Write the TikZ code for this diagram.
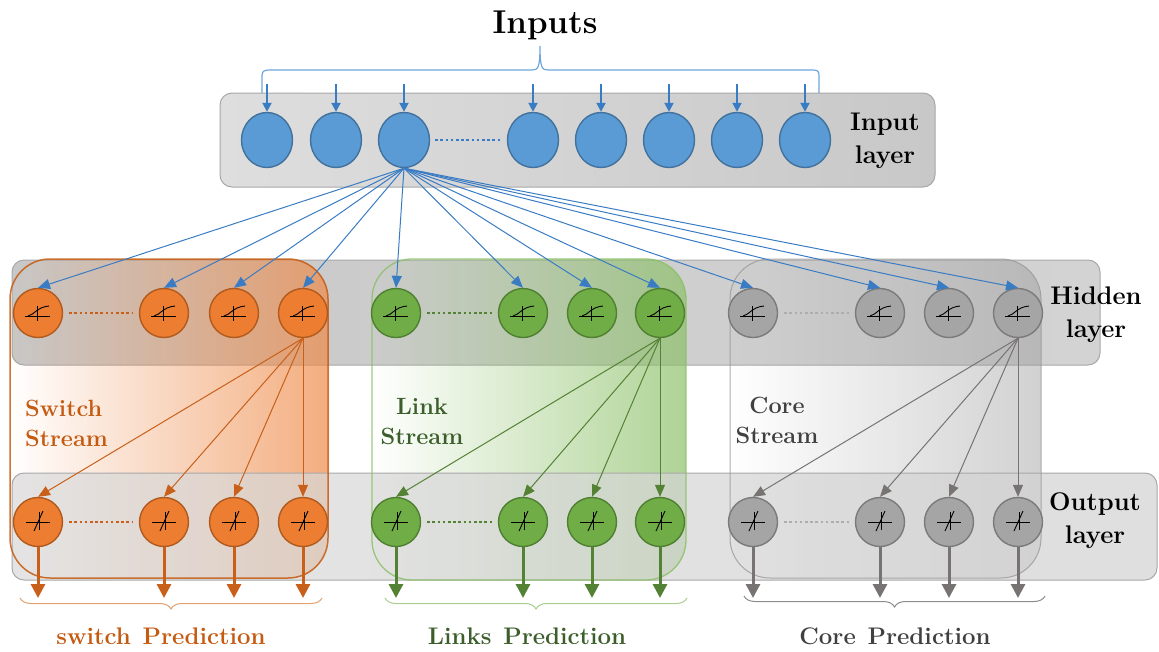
\documentclass[tikz,border=0pt]{standalone}
\usetikzlibrary{arrows.meta,decorations.pathreplacing,fadings,shapes.geometric}
\definecolor{bluF}{HTML}{5B9BD5}
\definecolor{bluD}{HTML}{41719C}
\definecolor{bluA}{HTML}{3A7CC3}
\definecolor{bluB}{HTML}{6FA6DA}
\definecolor{orF}{HTML}{ED7D31}
\definecolor{orD}{HTML}{B05A1E}
\definecolor{orA}{HTML}{C9601A}
\definecolor{orT}{HTML}{C55A11}
\definecolor{orS}{HTML}{EE8A48}
\definecolor{orB}{HTML}{E3A273}
\definecolor{grF}{HTML}{70AD47}
\definecolor{grD}{HTML}{4F7F31}
\definecolor{grA}{HTML}{548235}
\definecolor{grT}{HTML}{3B5E2B}
\definecolor{grS}{HTML}{8CC068}
\definecolor{grB}{HTML}{A9CF8F}
\definecolor{gyF}{HTML}{A5A5A5}
\definecolor{gyD}{HTML}{7A7A7A}
\definecolor{gyA}{HTML}{787373}
\definecolor{gyT}{HTML}{404040}
\definecolor{gyS}{HTML}{999999}
\definecolor{gyB}{HTML}{8C8C8C}
\definecolor{layB}{HTML}{A8A8A8}
\definecolor{inL}{HTML}{DEDEDE}
\definecolor{inR}{HTML}{C8C8C8}
\definecolor{hidL}{HTML}{C8C8C8}
\definecolor{hidR}{HTML}{D3D3D3}
\definecolor{outL}{HTML}{DADADA}
\definecolor{outR}{HTML}{D2D2D2}
\tikzfading[name=streamfade, left color=transparent!100, right color=transparent!30]
\tikzfading[name=greyfade, left color=transparent!100, right color=transparent!55]
\begin{document}
\begin{tikzpicture}[x=1pt,y=-1pt,
  neuron/.style={circle, minimum size=49, inner sep=0, line width=1.4},
  inp/.style={ellipse, minimum width=51, minimum height=55, inner sep=0, fill=bluF, draw=bluD, line width=1.4},
  onode/.style={neuron, fill=orF, draw=orD},
  gnode/.style={neuron, fill=grF, draw=grD},
  ynode/.style={neuron, fill=gyF, draw=gyD},
  layerbox/.style={draw=layB, line width=1, rounded corners=12},
  laylab/.style={align=center, inner sep=0, font=\fontsize{25.5}{33}\selectfont\bfseries},
  strlab/.style={inner sep=0, font=\fontsize{23.5}{30}\selectfont\bfseries},
  predlab/.style={inner sep=0, font=\fontsize{24}{28}\selectfont\bfseries},
  thin arrow/.style={line width=1, -{Triangle[length=12pt,width=10pt]}},
  thick arrow/.style={line width=3, -{Triangle[length=14pt,width=14pt]}},
  dots/.style={line width=2.6, dash pattern=on 2.6pt off 2.6pt},
  glyph/.style={black, line width=0.9},
  pbrace/.style={line width=1, decorate, decoration={brace, mirror, amplitude=11pt}}
]
\useasboundingbox (0,0) rectangle (1159,651);

% layer boxes
\draw[layerbox, left color=inL, right color=inR] (220,93) rectangle (935,187);
\draw[layerbox, left color=hidL, right color=hidR] (12,260) rectangle (1100,365);

% stream boxes
\fill[orS, path fading=streamfade, rounded corners=40] (10,259) rectangle (328,578);
\fill[grS, path fading=streamfade, rounded corners=40] (372,259) rectangle (686,580);
\fill[gyS, path fading=greyfade, rounded corners=40] (730,259) rectangle (1041,578);

% output layer box (translucent, on top of streams)
\draw[layerbox, left color=outL, right color=outR, fill opacity=0.72] (12,473) rectangle (1157,580);

% stream borders
\draw[orT, line width=1.5, rounded corners=40, draw opacity=0.85] (10,259) rectangle (328,578);
\draw[grS, line width=1.3, rounded corners=40, draw opacity=0.85] (372,259) rectangle (686,580);
\draw[gyS, line width=1, rounded corners=40, draw opacity=0.8] (730,259) rectangle (1041,578);

% texts
\node[font=\fontsize{33}{36}\selectfont\bfseries] (inputs) at (545,25) {Inputs};
\node[laylab] (inlab) at (885,141) {Input\\layer};
\node[laylab] (hidlab) at (1096,315) {Hidden\\layer};
\node[laylab] (outlab) at (1095,521) {Output\\layer};
\node[strlab, text=orT, align=left, anchor=west] (swl) at (25,423) {Switch\\Stream};
\node[strlab, text=grT, align=center] (lkl) at (422,421) {Link\\Stream};
\node[strlab, text=gyT, align=center] (crl) at (777,420) {Core\\Stream};
\node[predlab, text=orT] (swp) at (161,636) {switch\hspace{0.12em} Prediction};
\node[predlab, text=grT] (lkp) at (527,636) {Links\hspace{0.12em} Prediction};
\node[predlab, text=gyT] (crp) at (895,636) {Core\hspace{0.12em} Prediction};

% input nodes
\foreach \x [count=\i] in {267,336,404,533,601,669,737,805} {
  \node[inp] (i\i) at (\x,140) {};
  \coordinate (ia\i) at (\x,84);
  \draw[bluA, line width=2, -{Triangle[length=9pt,width=9pt]}] (ia\i) -- (i\i.north);
}
\draw[bluA, dots] ([xshift=5]i3.east) -- ([xshift=-5]i4.west);

% top brace
\draw[bluB, line width=1.2] (262,93) -- (262,76) .. controls (262,71) and (264,70) .. (270,70) -- (532,70)
  .. controls (538,70) and (540,68) .. (540,46) .. controls (540,68) and (542,70) .. (548,70) -- (812,70)
  .. controls (818,70) and (819,71) .. (819,76) -- (819,93);

% hidden and output nodes
\foreach \x [count=\i] in {38,164,234,303} {
  \node[onode] (h\i) at (\x,313) {};
  \node[onode] (o\i) at (\x,522) {};
}
\foreach \x [count=\i from 5] in {396,523,592,660} {
  \node[gnode] (h\i) at (\x,313) {};
  \node[gnode] (o\i) at (\x,522) {};
}
\foreach \x [count=\i from 9] in {753,880,949,1018} {
  \node[ynode] (h\i) at (\x,313) {};
  \node[ynode] (o\i) at (\x,522) {};
}

% glyphs
\foreach \i in {1,...,12} {
  \draw[glyph] ([shift={(-13,3)}]h\i.center) -- ([shift={(12,3)}]h\i.center);
  \draw[glyph] ([shift={(-1,-7)}]h\i.center) -- ([shift={(-1,8)}]h\i.center);
  \draw[glyph] ([shift={(-10,3)}]h\i.center) .. controls ([shift={(-4,2)}]h\i.center) and ([shift={(-1,-6)}]h\i.center) .. ([shift={(11,-7)}]h\i.center);
  \draw[glyph] ([shift={(-12,0)}]o\i.center) -- ([shift={(12,0)}]o\i.center);
  \draw[glyph] ([shift={(1,-10)}]o\i.center) -- ([shift={(1,8)}]o\i.center);
  \draw[glyph] ([shift={(-4,9)}]o\i.center) -- ([shift={(5,-11)}]o\i.center);
}

% dotted lines
\draw[orA, dots] ([xshift=6]h1.east) -- ([xshift=-6]h2.west);
\draw[orA, dots] ([xshift=6]o1.east) -- ([xshift=-6]o2.west);
\draw[grA, dots] ([xshift=6]h5.east) -- ([xshift=-6]h6.west);
\draw[grA, dots] ([xshift=6]o5.east) -- ([xshift=-6]o6.west);
\draw[gyS!80, dots] ([xshift=6]h9.east) -- ([xshift=-6]h10.west);
\draw[gyS!80, dots] ([xshift=6]o9.east) -- ([xshift=-6]o10.west);

% input -> hidden
\foreach \i in {1,...,12} {
  \draw[bluA, thin arrow] (i3.south) -- (h\i.north);
}

% hidden -> output
\foreach \i in {1,...,4} { \draw[orA, thin arrow] (h4.south) -- (o\i.north); }
\foreach \i in {5,...,8} { \draw[grA, thin arrow] (h8.south) -- (o\i.north); }
\foreach \i in {9,...,12} { \draw[gyA, thin arrow] (h12.south) -- (o\i.north); }

% output arrows
\foreach \x [count=\i] in {38,164,234,303,396,523,592,660,753,880,949,1018} {
  \coordinate (e\i) at (\x,598);
}
\foreach \i in {1,...,4} { \draw[orA, thick arrow] (o\i.south) -- (e\i); }
\foreach \i in {5,...,8} { \draw[grA, thick arrow] (o\i.south) -- (e\i); }
\foreach \i in {9,...,12} { \draw[gyA, thick arrow] (o\i.south) -- (e\i); }

% bottom braces
\draw[orB, pbrace] (20,598) -- (322,598);
\draw[grB, pbrace] (385,598) -- (687,598);
\draw[gyB, pbrace] (744,596) -- (1045,596);
\end{tikzpicture}
\end{document}
